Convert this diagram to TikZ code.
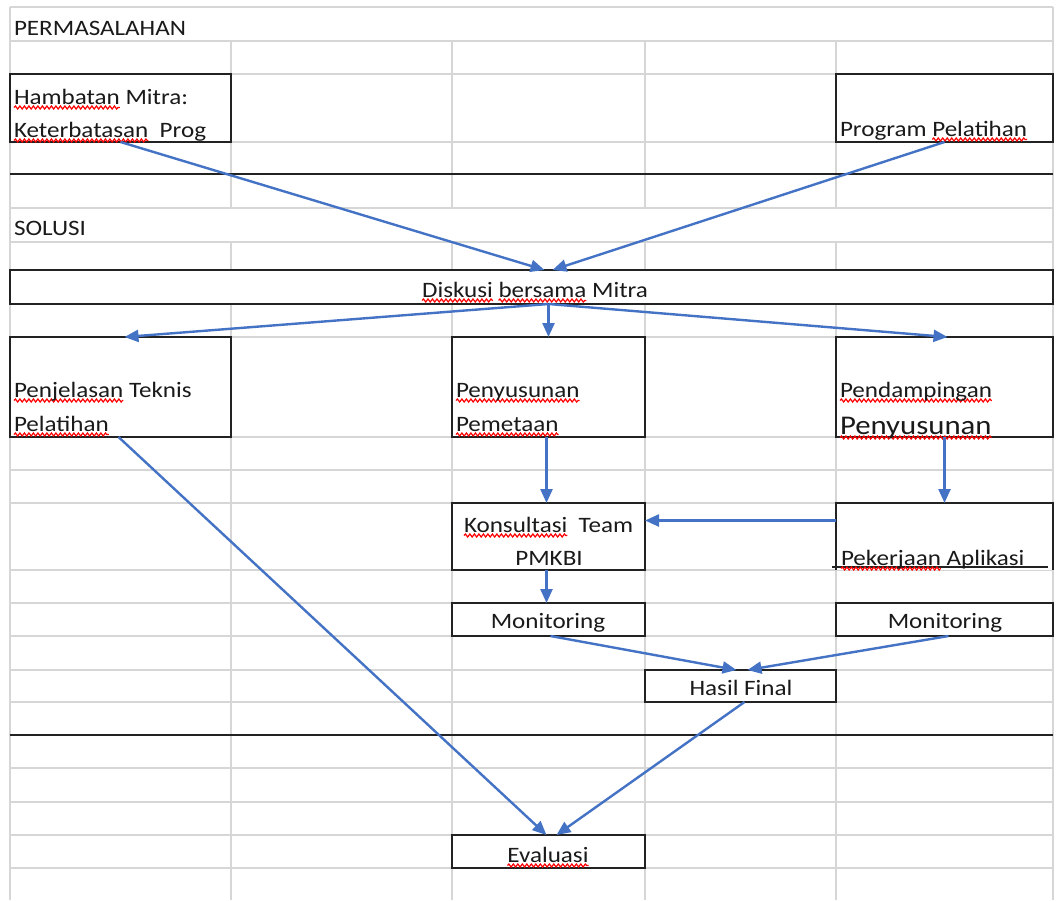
\documentclass[tikz,border=0pt]{standalone}
\usepackage{fontspec}
\setmainfont{Carlito}[FakeStretch=1.14]
\usetikzlibrary{arrows.meta,decorations.pathmorphing}
\definecolor{gridgray}{HTML}{D6D6D6}
\definecolor{arrowblue}{HTML}{4472C4}
\definecolor{txtcol}{HTML}{1A1A1A}
\definecolor{rulecol}{HTML}{222222}
\newlength\spwavelen
\newcommand\spellwave[1]{\settowidth\spwavelen{#1}\tikz[overlay,baseline=0pt,x=1pt,y=1pt]\draw[red,line width=1.2pt,decorate,decoration={snake,amplitude=1.5pt,segment length=4.5pt}] (0pt,-3.5pt) -- (\spwavelen,-3.5pt);#1}
\begin{document}
\begin{tikzpicture}[x=1pt,y=-1pt,
  grid/.style={draw=gridgray,line width=1.4pt},
  rule/.style={draw=rulecol,line width=1.6pt},
  box/.style={draw=rulecol,line width=1.4pt,fill=white,inner sep=0pt,outer sep=0pt,anchor=north west},
  mon/.style={box,line width=2.2pt},
  txt/.style={inner sep=0pt,outer sep=0pt,anchor=base west,text=txtcol,font=\fontsize{22}{26}\selectfont},
  conn/.style={draw=arrowblue,line width=2.4pt,-{Triangle[length=14pt,width=12pt]}},
]
\useasboundingbox (0,0) rectangle (1057,900);
\fill[white] (0,0) rectangle (1057,900);
% grid
\foreach \y in {7,41,74,142,208,242,270,304,337,437,470,503,570,603,636,670,702,768,802,835,868}
  \draw[grid] (10,\y) -- (1053,\y);
\foreach \x in {10,1053} \draw[grid] (\x,7) -- (\x,900);
\foreach \x in {231,452,645,836} {
  \draw[grid] (\x,41) -- (\x,208);
  \draw[grid] (\x,242) -- (\x,900);
}
\draw[rule] (10,174) -- (1053,174);
\draw[rule] (10,735) -- (1053,735);
% boxes
\node[box,minimum width=221pt,minimum height=68pt] (hamb) at (10,74) {};
\node[box,minimum width=217pt,minimum height=68pt] (prog) at (836,74) {};
\node[box,minimum width=1043pt,minimum height=34pt] (disk) at (10,270) {};
\node[box,minimum width=221pt,minimum height=100pt] (penj) at (10,337) {};
\node[box,minimum width=193pt,minimum height=100pt] (penyus) at (452,337) {};
\node[box,minimum width=217pt,minimum height=100pt] (pend) at (836,337) {};
\node[box,minimum width=193pt,minimum height=67pt] (kons) at (452,503) {};
\node[box,draw=none,minimum width=217pt,minimum height=67pt] (pek) at (836,503) {};
\draw[draw=rulecol,line width=1.4pt] (pek.south west) -- (pek.north west) -- (pek.north east) -- (pek.south east);
\coordinate (pekL) at (832,567);
\coordinate (pekR) at (1048,567);
\draw[rulecol,line width=1.4pt] (pekL) -- (pekR);
\node[mon,minimum width=193pt,minimum height=33pt] (monL) at (452,603) {};
\node[mon,minimum width=217pt,minimum height=33pt] (monR) at (836,603) {};
\node[box,minimum width=191pt,minimum height=32pt] (hasil) at (645,670) {};
\node[box,minimum width=193pt,minimum height=33pt] (eval) at (452,835) {};
% texts
\node[txt] (tperm) at (14,35) {PERMASALAHAN};
\node[txt] (thamb) at (14,104) {\spellwave{Hambatan} Mitra:};
\node[txt] (tketer) at (14,137) {\spellwave{Keterbatasan}\ \ Prog};
\node[txt] (tprog) at (840,136) {Program \spellwave{Pelatihan}};
\node[txt] (tsol) at (14,235) {SOLUSI};
\node[txt,anchor=base] (tdisk) at (535,297) {\spellwave{Diskusi} \spellwave{bersama} Mitra};
\node[txt] (tpenj1) at (14,397) {\spellwave{Penjelasan} Teknis};
\node[txt] (tpenj2) at (14,431) {\spellwave{Pelatihan}};
\node[txt] (tpeny1) at (456,397) {\spellwave{Penyusunan}};
\node[txt] (tpeny2) at (456,431) {\spellwave{Pemetaan}};
\node[txt] (tpend1) at (840,397) {\spellwave{Pendampingan}};
\node[txt,font=\fontsize{27}{30}\selectfont] (tpend2) at (840,434) {\spellwave{Penyusunan}};
\node[txt] (tkons1) at (464,532) {\spellwave{Konsultasi}\ \ Team};
\node[txt,anchor=base] (tkons2) at (549,565) {PMKBI};
\node[txt] (tpek) at (841,565) {\spellwave{Pekerjaan} Aplikasi};
\node[txt,anchor=base] (tmonL) at (548,628) {Monitoring};
\node[txt,anchor=base] (tmonR) at (945,628) {Monitoring};
\node[txt,anchor=base] (thasil) at (741,695) {Hasil Final};
\node[txt,anchor=base] (teval) at (548,862) {\spellwave{Evaluasi}};
% connectors
\draw[conn] (hamb.south) -- ([xshift=13pt]disk.north);
\draw[conn] (prog.south) -- ([xshift=21pt]disk.north);
\draw[conn] ([xshift=17pt]disk.south) -- ([xshift=4pt]penj.north);
\draw[conn] ([xshift=17pt]disk.south) -- (penyus.north);
\draw[conn] ([xshift=17pt]disk.south) -- ([xshift=3pt]pend.north);
\draw[conn] ([xshift=-2pt]penj.south) -- ([xshift=-2pt]eval.north);
\draw[conn] ([xshift=-2pt]penyus.south) -- ([xshift=-2pt]kons.north);
\draw[conn] (pend.south) -- (pek.north);
\draw[conn] ([yshift=16pt]pek.west) -- ([yshift=16pt]kons.east);
\draw[conn] ([xshift=-2pt]kons.south) -- ([xshift=-2pt]monL.north);
\draw[conn] ([xshift=2pt]monL.south) -- ([xshift=-4pt]hasil.north);
\draw[conn] ([xshift=4pt]monR.south) -- ([xshift=7pt]hasil.north);
\draw[conn] ([xshift=4pt]hasil.south) -- ([xshift=8pt]eval.north);
\end{tikzpicture}
\end{document}
